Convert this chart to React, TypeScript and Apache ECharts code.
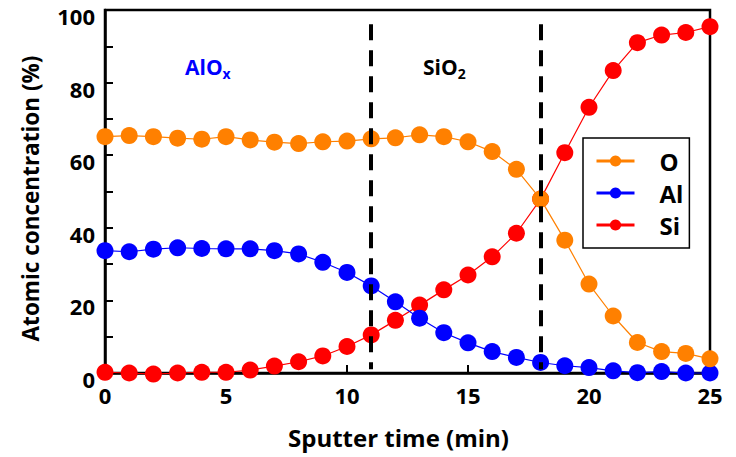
import React, { useEffect, useRef } from "react";
import * as echarts from "echarts";

// Depth profile: sputter time (min) vs atomic concentration (%)
const sputterTime = [0, 1, 2, 3, 4, 5, 6, 7, 8, 9, 10, 11, 12, 13, 14, 15, 16, 17, 18, 19, 20, 21, 22, 23, 24, 25];
const oxygen = [65.1, 65.4, 65.1, 64.7, 64.4, 65.1, 64.2, 63.6, 63.2, 63.7, 63.9, 64.5, 64.8, 65.6, 65.1, 63.7, 61.0, 56.1, 47.9, 36.6, 24.5, 15.7, 8.4, 5.9, 5.4, 3.9];
const aluminum = [33.7, 33.4, 34.1, 34.5, 34.3, 34.2, 34.2, 33.7, 32.8, 30.5, 27.7, 24.0, 19.6, 15.1, 11.1, 8.3, 5.9, 4.3, 2.9, 2.0, 1.5, 0.6, 0.1, 0.4, 0.0, 0.0];
const silicon = [0.2, 0.0, -0.3, 0.0, 0.2, 0.2, 0.8, 1.9, 3.1, 4.7, 7.3, 10.5, 14.5, 18.7, 22.9, 27.0, 32.0, 38.5, 47.9, 60.7, 73.2, 83.3, 91.0, 93.1, 93.8, 95.4];
const interfaces = [11, 18];
const seriesNames = ["O", "Al", "Si"];
const seriesColors = ["#FF8000", "#0000FF", "#FF0000"];
const yTickLabels = [0, 20, 40, 60, 80, 100];

const FONT = "'Open Sans', sans-serif";

export default function App() {
  const ref = useRef<HTMLDivElement>(null);

  useEffect(() => {
    if (!ref.current) return;
    const chart = echarts.init(ref.current, undefined, { renderer: "svg" });
    const values = [oxygen, aluminum, silicon];
    const zOrder = [4, 3, 2];

    const series: any[] = seriesNames.map((name, i) => ({
      name,
      type: "line",
      data: sputterTime.map((t, j) => [t, values[i][j]]),
      symbol: "circle",
      symbolSize: 17,
      showSymbol: true,
      clip: false,
      z: zOrder[i],
      color: seriesColors[i],
      itemStyle: { color: seriesColors[i] },
      lineStyle: { color: seriesColors[i], width: 1.2 },
    }));

    // vertical dashed interface lines
    series.push({
      name: "interfaces",
      type: "line",
      data: [],
      z: 5,
      markLine: {
        silent: true,
        symbol: ["none", "none"],
        label: { show: false },
        lineStyle: { color: "#000", width: 4, type: [16, 10], dashOffset: -7 },
        data: interfaces.map((x) => [
          { coord: [x, 98] },
          { coord: [x, 1] },
        ]),
      },
    });

    chart.setOption({
      animation: false,
      backgroundColor: "#fff",
      grid: {
        left: 105,
        right: 26,
        top: 10,
        bottom: 84,
        show: true,
        borderColor: "#000",
        borderWidth: 2.5,
        backgroundColor: "transparent",
      },
      legend: {
        data: seriesNames,
        orient: "vertical",
        left: 583,
        top: 138,
        padding: [10, 6, 10, 12],
        itemWidth: 38,
        itemHeight: 14,
        itemGap: 6,
        backgroundColor: "#fff",
        borderColor: "#000",
        borderWidth: 1.5,
        lineStyle: { width: 3 },
        textStyle: {
          fontFamily: FONT,
          fontWeight: "bold",
          fontSize: 24,
          lineHeight: 26,
          color: "#000",
          padding: [0, 0, 0, 20],
        },
      },
      xAxis: {
        type: "value",
        min: 0,
        max: 25,
        interval: 5,
        name: "Sputter time (min)",
        nameLocation: "middle",
        nameGap: 52,
        nameTextStyle: {
          fontFamily: FONT,
          fontWeight: "bold",
          fontSize: 24,
          color: "#000",
          padding: [0, 18, 0, 0],
        },
        axisLine: { show: true, lineStyle: { color: "#000", width: 2.5 } },
        axisTick: { show: true, inside: true, length: 8, lineStyle: { color: "#000", width: 2 } },
        axisLabel: { fontFamily: FONT, fontWeight: "bold", fontSize: 22, color: "#000", margin: 11 },
        splitLine: { show: false },
      },
      yAxis: {
        type: "value",
        min: 0,
        max: 100,
        interval: 10,
        name: "Atomic concentration (%)",
        nameLocation: "middle",
        nameGap: 63,
        nameRotate: 90,
        nameTextStyle: {
          fontFamily: FONT,
          fontWeight: "bold",
          fontSize: 22.5,
          color: "#000",
          padding: [0, 14, 0, 0],
        },
        axisLine: { show: true, lineStyle: { color: "#000", width: 2.5 } },
        axisTick: { show: true, inside: true, length: 8, lineStyle: { color: "#000", width: 2 } },
        axisLabel: {
          color: "#000",
          margin: 10,
          formatter: (v: number) => (yTickLabels.includes(v) ? `{t|${v}}` : ""),
          rich: {
            t: {
              fontFamily: FONT,
              fontWeight: "bold",
              fontSize: 22,
              color: "#000",
              padding: [12, 0, 0, 0],
            },
          },
        },
        splitLine: { show: false },
      },
      graphic: [
        {
          type: "text",
          left: 185,
          top: 56,
          style: {
            text: "{a|AlO}{s|x}",
            rich: {
              a: { fontFamily: FONT, fontWeight: "bold", fontSize: 21, fill: "#0000FF", color: "#0000FF" },
              s: { fontFamily: FONT, fontWeight: "bold", fontSize: 14, fill: "#0000FF", color: "#0000FF", padding: [14, 0, 0, 0] },
            },
          },
        },
        {
          type: "text",
          left: 423,
          top: 56,
          style: {
            text: "{a|SiO}{s|2}",
            rich: {
              a: { fontFamily: FONT, fontWeight: "bold", fontSize: 21, fill: "#000", color: "#000" },
              s: { fontFamily: FONT, fontWeight: "bold", fontSize: 14, fill: "#000", color: "#000", padding: [14, 0, 0, 0] },
            },
          },
        },
      ],
      series,
    });

    return () => chart.dispose();
  }, []);

  return (
    <div
      ref={ref}
      style={{ position: "fixed", left: 0, top: 0, width: 736, height: 457 }}
    />
  );
}
